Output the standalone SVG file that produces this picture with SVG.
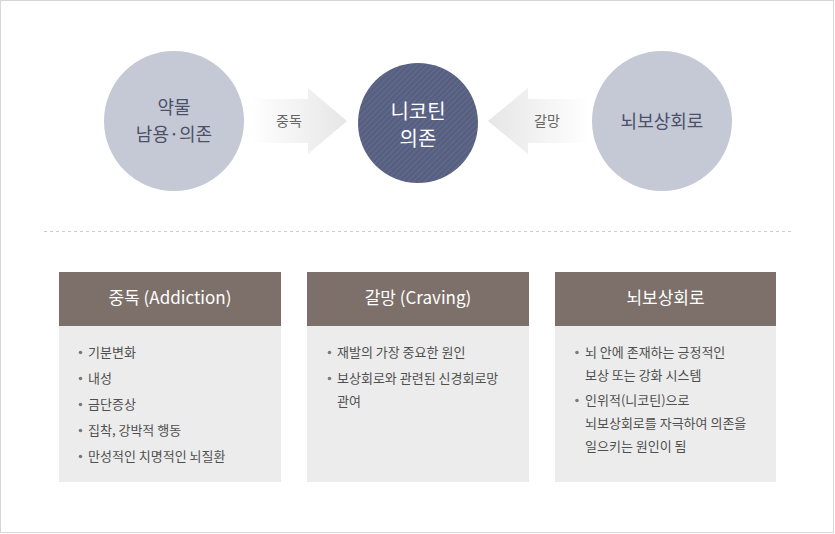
<svg xmlns="http://www.w3.org/2000/svg" width="835" height="534" viewBox="0 0 835 534">
<defs>
<style>
.k{font-family:"Noto Sans CJK KR","Noto Sans",sans-serif}
.ct{font-size:18px;fill:#4b5068;text-anchor:middle}
.cw{font-size:20px;fill:#ffffff;text-anchor:middle}
.al{font-size:14px;fill:#666666;text-anchor:middle}
.hd{fill:#7d706a}
.bd{fill:#ececec}
.ht{font-size:17px;fill:#ffffff;text-anchor:middle}
.li{font-size:13px;fill:#4f4f4f}
.dot{fill:#7a7a7a}
</style>
<pattern id="stripe" width="4" height="4" patternUnits="userSpaceOnUse" patternTransform="rotate(45)">
<rect width="4" height="4" fill="#565f80"/>
<rect width="1.2" height="4" fill="#626b8c"/>
</pattern>
<linearGradient id="gR" x1="0" y1="0" x2="1" y2="0">
<stop offset="0" stop-color="#ffffff"/>
<stop offset="1" stop-color="#e6e6e6"/>
</linearGradient>
<linearGradient id="gL" x1="1" y1="0" x2="0" y2="0">
<stop offset="0" stop-color="#ffffff"/>
<stop offset="1" stop-color="#e6e6e6"/>
</linearGradient>
</defs>
<rect x="0.5" y="0.5" width="833" height="532" fill="#ffffff" stroke="#d6d6d6"/>

<g id="connectors">
<g id="arrow-addiction">
<polygon points="250,99 308,99 308,88 347,121 308,154 308,143 250,143" fill="url(#gR)"/>
<text class="k al" x="289" y="126">중독</text>
</g>
<g id="arrow-craving">
<polygon points="590,99 528,99 528,88 488,121 528,154 528,143 590,143" fill="url(#gL)"/>
<text class="k al" x="547" y="126">갈망</text>
</g>
</g>

<g id="node-drug">
<circle cx="174" cy="121" r="70" fill="#c5c9d6"/>
<text class="k ct" x="174" y="114">약물</text>
<text class="k ct" x="174" y="141">남용·의존</text>
</g>
<g id="node-nicotine">
<circle cx="418" cy="123" r="60" fill="url(#stripe)"/>
<text class="k cw" x="418" y="119">니코틴</text>
<text class="k cw" x="418" y="146">의존</text>
</g>
<g id="node-reward">
<circle cx="662" cy="121" r="70" fill="#c5c9d6"/>
<text class="k ct" x="662" y="128">뇌보상회로</text>
</g>

<line x1="44" y1="231.5" x2="792" y2="231.5" stroke="#cccccc" stroke-width="1" stroke-dasharray="3,3"/>

<g id="card-addiction">
<rect class="hd" x="59" y="272" width="222" height="54"/>
<rect class="bd" x="59" y="326" width="222" height="156"/>
<text class="k ht" x="170" y="304">중독 (Addiction)</text>
<circle class="dot" cx="80.5" cy="352.5" r="1.8"/>
<text class="k li" x="88" y="357">기분변화</text>
<circle class="dot" cx="80.5" cy="378.5" r="1.8"/>
<text class="k li" x="88" y="383">내성</text>
<circle class="dot" cx="80.5" cy="404.5" r="1.8"/>
<text class="k li" x="88" y="409">금단증상</text>
<circle class="dot" cx="80.5" cy="430.5" r="1.8"/>
<text class="k li" x="88" y="435">집착, 강박적 행동</text>
<circle class="dot" cx="80.5" cy="456.5" r="1.8"/>
<text class="k li" x="88" y="461">만성적인 치명적인 뇌질환</text>
</g>

<g id="card-craving">
<rect class="hd" x="307" y="272" width="222" height="54"/>
<rect class="bd" x="307" y="326" width="222" height="156"/>
<text class="k ht" x="418" y="304">갈망 (Craving)</text>
<circle class="dot" cx="329.5" cy="352.5" r="1.8"/>
<text class="k li" x="337" y="357">재발의 가장 중요한 원인</text>
<circle class="dot" cx="329.5" cy="378.5" r="1.8"/>
<text class="k li" x="337" y="383">보상회로와 관련된 신경회로망</text>
<text class="k li" x="337" y="406">관여</text>
</g>

<g id="card-reward">
<rect class="hd" x="555" y="272" width="221" height="54"/>
<rect class="bd" x="555" y="326" width="221" height="156"/>
<text class="k ht" x="665.5" y="304">뇌보상회로</text>
<circle class="dot" cx="577" cy="352.5" r="1.8"/>
<text class="k li" x="585" y="357">뇌 안에 존재하는 긍정적인</text>
<text class="k li" x="585" y="380">보상 또는 강화 시스템</text>
<circle class="dot" cx="577" cy="400.5" r="1.8"/>
<text class="k li" x="585" y="405">인위적(니코틴)으로</text>
<text class="k li" x="585" y="428">뇌보상회로를 자극하여 의존을</text>
<text class="k li" x="585" y="451">일으키는 원인이 됨</text>
</g>
</svg>
